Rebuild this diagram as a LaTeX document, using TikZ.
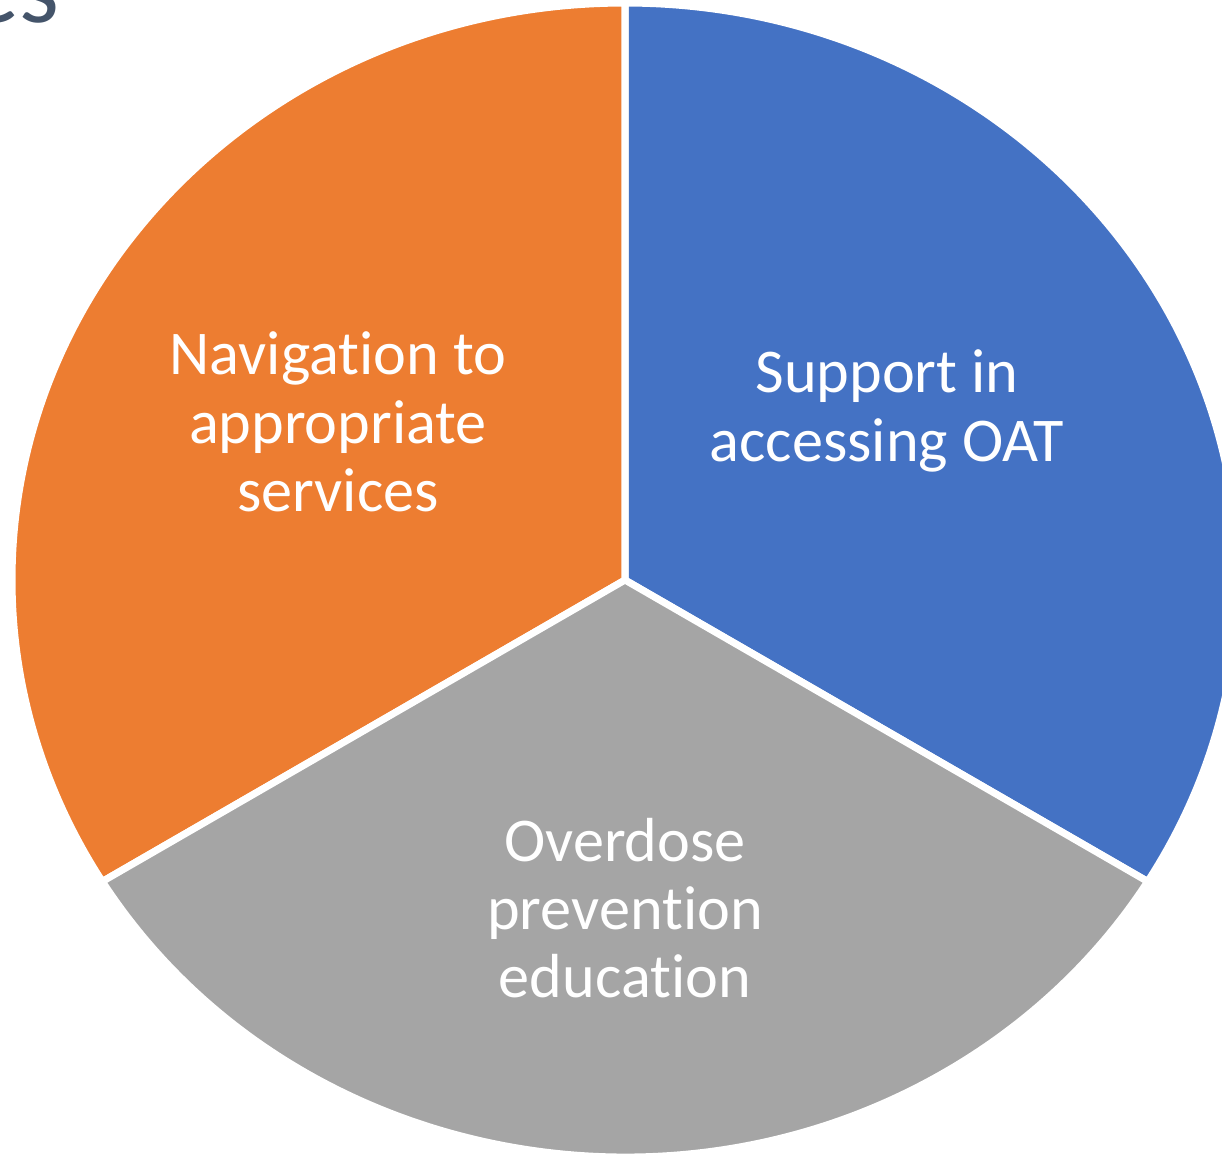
\documentclass[tikz,border=0pt]{standalone}
\usepackage{fontspec}
\setmainfont{Carlito}[Ligatures=NoCommon]
\usepackage{xcolor}
\usepackage{tikz}
\definecolor{Office-Blue}{RGB}{ 68, 114, 196}
\definecolor{Office-Orange}{RGB}{237, 125,  49}
\definecolor{Office-Gray}{RGB}{165, 165, 165}
\definecolor{Office-Slate}{RGB}{ 68,  84, 106}
\tikzstyle{slice}=[draw=white,line width=2pt,line join=miter]
\tikzstyle{t}=[text=white,align=center,inner sep=0pt,font=\fontsize{17.7}{19.4}\selectfont]
\tikzstyle{heading}=[text=Office-Slate,inner sep=0pt,font=\fontsize{29}{35}\selectfont]

\begin{document}
\begin{tikzpicture}[x=0.01cm,y=0.01cm]
\useasboundingbox (0,0) rectangle (1222,1153);

% Slices
\coordinate (c) at (625,573);
\draw[slice,fill=Office-Blue]   (c) -- +(90:613 and 577)    arc[start angle=90,    end angle=-31.5, x radius=613, y radius=577] -- cycle;
\draw[slice,fill=Office-Orange] (c) -- +(90:613 and 577)    arc[start angle=90,    end angle=211.5, x radius=613, y radius=577] -- cycle;
\draw[slice,fill=Office-Gray]   (c) -- +(211.5:613 and 577) arc[start angle=211.5, end angle=328.5, x radius=613, y radius=577] -- cycle;

% Nodes
\node[t]                        (navigation) at (338,731)  {Navigation to\\appropriate\\services};
\node[t]                        (support)    at (887,742)  {Support in\\accessing OAT};
\node[t]                        (overdose)   at (625,245)  {Overdose\\prevention\\education};
\node[heading,anchor=base east] (title)      at (60,1131)  {es};

\end{tikzpicture}
\end{document}
